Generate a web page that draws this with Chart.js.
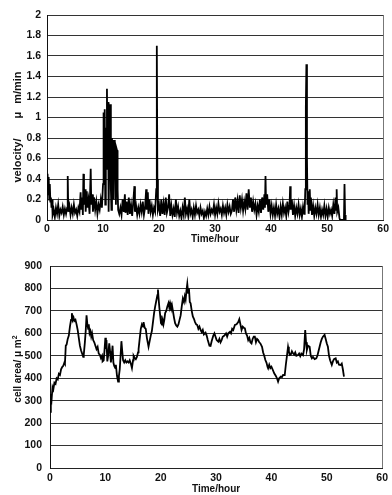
<!DOCTYPE html>
<html>
<head>
<meta charset="utf-8">
<script src="https://cdn.jsdelivr.net/npm/chart.js@4.4.0/dist/chart.umd.min.js"></script>
<style>
  body { margin: 0; background: #fff; }
  #wrap { position: relative; width: 392px; height: 495px; overflow: hidden; font-family: 'Liberation Sans', Arial, sans-serif; }
  #velBox { position: absolute; left: 0; top: 0; width: 392px; height: 245px; }
  #areaBox { position: absolute; left: 0; top: 245px; width: 392px; height: 250px; }
  .ytitle { position: absolute; transform: translate(-50%, -50%) rotate(-90deg); white-space: nowrap; font-weight: bold; font-size: 10px; color: #111; }
  .ytitle .mu { display: inline-block; margin: 0 8px 0 20px; }
</style>
</head>
<body>
<div id="wrap">
  <div id="velBox"><canvas id="velChart" width="392" height="245"></canvas></div>
  <div id="areaBox"><canvas id="areaChart" width="392" height="250"></canvas></div>
  <div class="ytitle" style="left:16.5px; top:127px; font-size:11px;">velocity/<span class="mu">μ</span>m/min</div>
  <div class="ytitle" style="left:16.5px; top:369px;">cell area/ μ m<sup style="font-size:7px">2</sup></div>
</div>
<script>
// velocity (µm/min) against time (hours)
const velHours = [
  0, 0.1, 0.2, 0.3, 0.4, 0.5, 0.6, 0.7, 0.8, 0.9, 1.0,
  1.2, 1.4, 1.6, 1.8, 2.0, 2.2, 2.4, 2.6, 2.8, 3.0, 3.2, 3.4,
  3.6, 3.7, 3.8, 4.0, 4.2, 4.4, 4.6, 4.8, 5.0, 5.2, 5.4, 5.6, 5.8,
  6.0, 6.1, 6.3, 6.4, 6.5, 6.6, 6.8, 6.9, 7.1, 7.2, 7.4, 7.6, 7.8, 7.9, 8.1, 8.2, 8.4, 8.6, 8.8, 9.0, 9.2, 9.4, 9.6, 9.8,
  10.0, 10.1, 10.2, 10.3, 10.4, 10.5, 10.6, 10.7, 10.8, 10.9,
  11.0, 11.1, 11.2, 11.3, 11.4, 11.5, 11.6, 11.7, 11.8, 11.9,
  12.0, 12.1, 12.2, 12.3, 12.4, 12.5, 12.6, 12.7,
  12.9, 13.1, 13.3, 13.5, 13.7, 13.9, 14.0, 14.2, 14.4, 14.6, 14.8,
  15.0, 15.2, 15.4, 15.6, 15.7, 15.9, 16.1, 16.3, 16.5, 16.7, 16.9,
  17.1, 17.3, 17.5, 17.7, 17.8, 18.0, 18.1, 18.3, 18.5, 18.7, 18.9,
  19.1, 19.3,
  19.5, 19.6, 19.7, 19.8,
  20.0, 20.2, 20.4, 20.6, 20.8, 21.0, 21.2, 21.4, 21.6, 21.8,
  22.0, 22.2, 22.4, 22.6, 22.8, 23.0, 23.2, 23.4, 23.6, 23.8,
  24.0, 24.2, 24.4, 24.6, 24.8, 25.0, 25.2, 25.4, 25.6, 25.8,
  26.0, 26.2, 26.4, 26.6, 26.8, 27.0, 27.2, 27.4, 27.6, 27.8,
  28.0, 28.2, 28.4, 28.6, 28.8, 29.0, 29.2, 29.4, 29.6, 29.8,
  30.0, 30.2, 30.4, 30.6, 30.8, 31.0, 31.2, 31.4, 31.6, 31.8,
  32.0, 32.2, 32.4, 32.6, 32.8,
  33.0, 33.2, 33.4, 33.6, 33.8, 34.0, 34.2, 34.4, 34.6, 34.8,
  35.0, 35.2, 35.4, 35.6, 35.8, 36.0, 36.2, 36.4, 36.6, 36.8,
  37.0, 37.2, 37.4, 37.6, 37.8, 38.0, 38.2, 38.4, 38.6, 38.8,
  38.9, 39.0, 39.1, 39.3, 39.5, 39.7, 39.9,
  40.1, 40.3, 40.5, 40.7, 40.9, 41.1, 41.3, 41.5, 41.7, 41.9,
  42.1, 42.3, 42.5, 42.7, 42.9, 43.1, 43.3, 43.4, 43.5, 43.7,
  43.9, 44.1, 44.3, 44.5, 44.7, 44.9, 45.1, 45.3, 45.5, 45.7,
  45.9, 46.0,
  46.1, 46.2, 46.3, 46.4, 46.5, 46.6, 46.7, 46.9, 47.0, 47.1, 47.3,
  47.5, 47.7, 47.9, 48.1, 48.3, 48.5, 48.7, 48.9, 49.1, 49.3,
  49.5, 49.7, 49.9, 50.1, 50.3, 50.5, 50.7, 50.9, 51.1, 51.3,
  51.5, 51.6, 51.7, 51.8, 52.0, 52.2, 52.3, 52.8, 53.0, 53.1,
  53.2, 53.3
];
const velValues = [
  0.30, 0.45, 0.25, 0.42, 0.20, 0.35, 0.18, 0.22, 0.12, 0.20, 0.05,
  0.10, 0.03, 0.12, 0.06, 0.15, 0.04, 0.10, 0.07, 0.13, 0.05, 0.11, 0.06,
  0.12, 0.43, 0.08, 0.14, 0.05, 0.12, 0.06, 0.15, 0.07, 0.10, 0.04, 0.12, 0.08,
  0.27, 0.10, 0.22, 0.05, 0.45, 0.15, 0.30, 0.08, 0.28, 0.12, 0.20, 0.06, 0.50, 0.15, 0.25, 0.08, 0.22, 0.10, 0.18, 0.06, 0.15, 0.10, 0.20, 0.12,
  0.35, 1.05, 0.40, 1.08, 0.15, 0.90, 0.50, 1.28, 0.60, 1.15,
  0.08, 0.55, 0.95, 1.13, 0.30, 0.10, 0.80, 0.40, 0.78, 0.20,
  0.78, 0.50, 0.72, 0.15, 0.70, 0.68, 0.30, 0.10,
  0.06, 0.12, 0.05, 0.20, 0.08, 0.25, 0.07, 0.18, 0.05, 0.22, 0.06,
  0.15, 0.04, 0.18, 0.33, 0.08, 0.14, 0.05, 0.12, 0.06, 0.15, 0.08,
  0.18, 0.05, 0.12, 0.30, 0.10, 0.27, 0.06, 0.20, 0.08, 0.14, 0.05,
  0.12, 0.08,
  0.30, 1.70, 0.40, 0.10,
  0.15, 0.04, 0.20, 0.06, 0.16, 0.05, 0.22, 0.07, 0.12, 0.25,
  0.04, 0.14, 0.05, 0.11, 0.03, 0.20, 0.07, 0.13, 0.04, 0.09,
  0.02, 0.12, 0.05, 0.22, 0.06, 0.11, 0.04, 0.20, 0.06, 0.10,
  0.03, 0.12, 0.05, 0.14, 0.07, 0.10, 0.04, 0.12, 0.06, 0.09,
  0.02, 0.08, 0.04, 0.11, 0.05, 0.13, 0.06, 0.10, 0.07, 0.15,
  0.05, 0.12, 0.06, 0.16, 0.08, 0.11, 0.05, 0.14, 0.07, 0.12,
  0.05, 0.15, 0.08, 0.13, 0.06,
  0.09, 0.20, 0.08, 0.22, 0.10, 0.19, 0.07, 0.24, 0.12, 0.20,
  0.09, 0.18, 0.11, 0.26, 0.10, 0.30, 0.12, 0.22, 0.08, 0.18,
  0.10, 0.16, 0.05, 0.14, 0.08, 0.20, 0.07, 0.22, 0.10, 0.25,
  0.12, 0.43, 0.15, 0.25, 0.08, 0.20, 0.06,
  0.14, 0.05, 0.12, 0.04, 0.15, 0.06, 0.11, 0.03, 0.13, 0.05,
  0.16, 0.07, 0.12, 0.04, 0.18, 0.08, 0.15, 0.33, 0.10, 0.20,
  0.05, 0.14, 0.04, 0.12, 0.06, 0.15, 0.05, 0.11, 0.03, 0.13,
  0.06, 0.10,
  0.30, 1.10, 1.52, 0.60, 0.15, 0.28, 0.06, 0.30, 0.10, 0.22, 0.05,
  0.14, 0.04, 0.12, 0.06, 0.15, 0.05, 0.12, 0.03, 0.10, 0.05,
  0.14, 0.04, 0.11, 0.03, 0.12, 0.06, 0.10, 0.04, 0.15, 0.06,
  0.22, 0.10, 0.30, 0.08, 0.12, 0.02, 0, 0, 0, 0.35,
  0.05, 0
];

// cell area (µm²) against time (hours), lower panel
const areaHours = [
  0, 0.15, 0.3, 0.45, 0.6, 0.8, 1.0, 1.2, 1.4, 1.6,
  1.8, 2.0, 2.2, 2.4, 2.6, 2.7, 2.85, 3.0, 3.2, 3.4,
  3.6, 3.8, 3.95, 4.1, 4.25, 4.4, 4.6, 4.8, 5.0, 5.2,
  5.4, 5.6, 5.8, 6.0, 6.1, 6.3, 6.45, 6.6, 6.75, 6.9,
  7.0, 7.15, 7.3, 7.45, 7.6, 7.8, 8.0, 8.2, 8.4, 8.6,
  8.8, 9.0, 9.2, 9.4, 9.5, 9.7, 9.85, 10.0, 10.1, 10.2,
  10.35, 10.5, 10.7, 10.85, 11.0, 11.15, 11.3, 11.45, 11.6, 11.8,
  11.9, 12.1, 12.3, 12.45, 12.6, 12.75, 12.9, 13.05, 13.2, 13.4,
  13.6, 13.8, 14.0, 14.2, 14.4, 14.6, 14.8, 15.0, 15.1, 15.3,
  15.5, 15.7, 15.9, 16.0, 16.2, 16.4, 16.6, 16.8, 16.9, 17.1,
  17.3, 17.5, 17.65, 17.8, 18.0, 18.2, 18.4, 18.6, 18.8, 19.0,
  19.2, 19.4, 19.5, 19.6, 19.75, 19.9, 20.05, 20.2, 20.35, 20.5,
  20.65, 20.8, 21.0, 21.2, 21.4, 21.55, 21.7, 21.85, 22.0, 22.2,
  22.4, 22.6, 22.8, 23.0, 23.2, 23.4, 23.6, 23.8, 24.0, 24.2,
  24.35, 24.5, 24.65, 24.8, 24.95, 25.1, 25.25, 25.4, 25.6, 25.8,
  26.0, 26.2, 26.4, 26.6, 26.8, 27.0, 27.2, 27.4, 27.6, 27.8,
  28.1, 28.3, 28.5, 28.8, 29.0, 29.2, 29.5, 29.7, 29.9, 30.1,
  30.4, 30.6, 30.8, 31.0, 31.2, 31.5, 31.8, 32.0, 32.2, 32.5,
  32.7, 32.9, 33.1, 33.4, 33.7, 34.0, 34.2, 34.4, 34.6, 34.8,
  35.0, 35.2, 35.4, 35.6, 35.8, 36.0, 36.2, 36.4, 36.6, 36.8,
  37.0, 37.2, 37.4, 37.6, 37.8, 38.0, 38.3, 38.5, 38.7, 38.9,
  39.1, 39.3, 39.4, 39.6, 39.8, 40.0, 40.2, 40.5, 40.8, 41.0,
  41.2, 41.4, 41.7, 41.9, 42.1, 42.4, 42.6, 42.8, 43.0, 43.15,
  43.3, 43.5, 43.7, 43.9, 44.1, 44.3, 44.5, 44.8, 45.0, 45.2,
  45.4, 45.7, 45.9, 46.1, 46.25, 46.4, 46.6, 46.9, 47.1, 47.3,
  47.5, 47.8, 48.1, 48.3, 48.5, 48.7, 48.9, 49.1, 49.3, 49.6,
  49.8, 50.0, 50.2, 50.4, 50.6, 50.9, 51.1, 51.3, 51.6, 51.8,
  52.0, 52.2, 52.5, 52.7, 52.9, 53.1
];
const areaValues = [
  250, 330, 310, 360, 350, 380, 375, 400, 395, 420,
  415, 440, 450, 455, 470, 465, 545, 550, 575, 590,
  630, 660, 690, 660, 670, 655, 660, 640, 615, 580,
  545, 525, 510, 495, 505, 560, 610, 680, 640, 620,
  640, 600, 610, 585, 600, 570, 560, 545, 530, 540,
  510, 505, 490, 500, 475, 480, 525, 580, 530, 570,
  475, 500, 555, 520, 470, 500, 545, 470, 455, 445,
  460, 410, 385, 410, 440, 500, 565, 520, 480, 470,
  480, 470, 475, 470, 480, 465, 445, 480, 500, 490,
  485, 495, 515, 530, 575, 620, 640, 630, 650, 625,
  620, 580, 560, 540, 565, 590, 610, 650, 690, 720,
  745, 770, 795, 760, 715, 680, 645, 640, 660, 640,
  660, 690, 700, 720, 735, 715, 735, 720, 730, 700,
  670, 645, 635, 630, 640, 660, 680, 720, 755, 740,
  765, 750, 790, 820, 780, 800, 740, 734, 700, 675,
  665, 650, 640, 637, 620, 630, 615, 605, 615, 595,
  603, 590, 570, 545, 544, 565, 590, 600, 585, 570,
  563, 575, 560, 570, 585, 590, 600, 585, 600, 607,
  600, 620, 615, 637, 640, 650, 663, 640, 615, 630,
  625, 622, 600, 590, 570, 580, 560, 555, 575, 585,
  585, 560, 575, 570, 560, 555, 540, 515, 500, 481,
  470, 450, 444, 460, 445, 451, 440, 422, 410, 400,
  385, 400, 407, 405, 415, 414, 460, 500, 540, 520,
  503, 505, 520, 511, 505, 515, 500, 503, 510, 498,
  510, 503, 530, 615, 560, 526, 545, 540, 500, 489,
  495, 485, 489, 500, 520, 540, 560, 575, 585, 593,
  575, 555, 540, 500, 480, 459, 475, 485, 489, 470,
  475, 460, 459, 465, 440, 407
];

const xTitle = 'Time/hour';

Chart.defaults.font.family = "'Liberation Sans', Arial, sans-serif";
Chart.defaults.color = '#111';

function pts(xs, ys) {
  return xs.map((x, i) => ({ x: x, y: ys[i] }));
}

function makeChart(id, xs, ys, yMax, yStep, axisWidth, xAxisHeight, padTop, padBottom, tickPadX, tickPadY) {
  const ctx = document.getElementById(id).getContext('2d');
  return new Chart(ctx, {
    type: 'line',
    data: {
      datasets: [{
        data: pts(xs, ys),
        borderColor: '#000',
        borderWidth: 1.8,
        pointRadius: 0,
        tension: 0,
        fill: false
      }]
    },
    options: {
      responsive: false,
      animation: false,
      layout: { padding: { top: padTop, right: 7, bottom: padBottom, left: 0 } },
      plugins: { legend: { display: false }, tooltip: { enabled: false } },
      scales: {
        x: {
          type: 'linear',
          min: 0, max: 60,
          ticks: { stepSize: 10, autoSkip: false, maxRotation: 0, padding: tickPadX, font: { size: 10.5, weight: 'bold' } },
          grid: {
            drawTicks: false,
            color: c => (c.tick && c.tick.value === 60) ? '#777' : 'rgba(0,0,0,0)'
          },
          border: { display: true, color: '#222', width: 1 },
          title: { display: true, text: xTitle, padding: 0, font: { size: 10, weight: 'bold' } },
          afterFit: s => { s.height = xAxisHeight; }
        },
        y: {
          min: 0, max: yMax,
          ticks: {
            stepSize: yStep, padding: tickPadY, font: { size: 10.5, weight: 'bold' },
            callback: v => String(Math.round(v * 10) / 10)
          },
          grid: { drawTicks: false, color: '#333', lineWidth: 1 },
          border: { display: true, color: '#111', width: 1 },
          afterFit: s => { s.width = axisWidth; }
        }
      }
    }
  });
}

makeChart('velChart', velHours, velValues, 2, 0.2, 47, 25, 15, 0, 3, 6);
makeChart('areaChart', areaHours, areaValues, 900, 100, 50, 27, 21, 0, 4, 8);
</script>
</body>
</html>
